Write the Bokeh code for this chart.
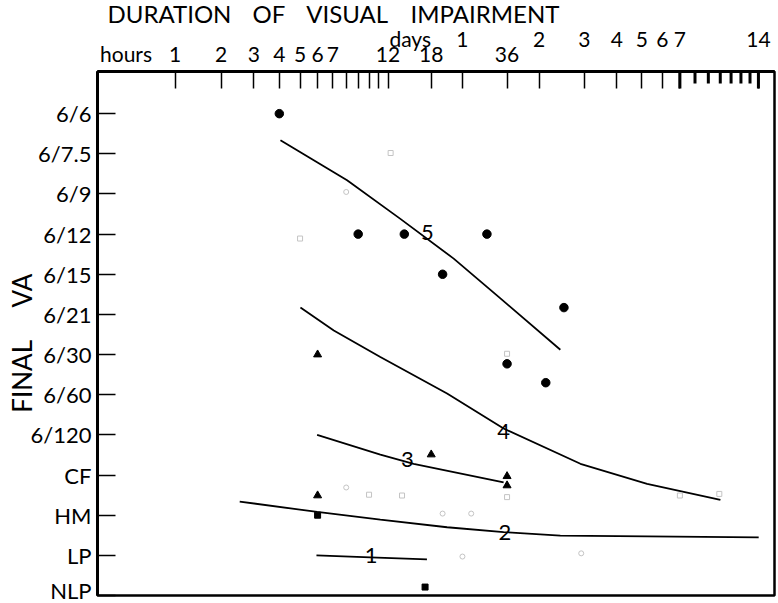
import numpy as np
from bokeh.plotting import figure
from bokeh.models import LinearAxis, FixedTicker, Range1d
from bokeh.embed import file_html
from bokeh.resources import INLINE
from bokeh.core.properties import value

FONT = "Lato"

# ---------------- data ----------------
# VA levels: index 0 = NLP ... 12 = 6/6
va_labels = ["NLP", "LP", "HM", "CF", "6/120", "6/60", "6/30", "6/21",
             "6/15", "6/12", "6/9", "6/7.5", "6/6"]

# top (duration) axis, in hours
hours_row_pos = [1, 2, 3, 4, 5, 6, 7, 12, 18, 36]
hours_row_text = ["1", "2", "3", "4", "5", "6", "7", "12", "18", "36"]
unlabelled_tick_hours = [8, 9, 10, 11, 24, 48, 72, 96, 120, 144, 168, 336]
bold_long_tick_hours = [168, 336]
bold_short_tick_hours = [192, 216, 240, 264, 288, 312]
hours_word_pos = [0.3]
hours_word_text = ["hours"]
days_row_pos = [14.8, 24, 48, 72, 96, 120, 144, 168, 336]
days_row_text = ["days", "1", "2", "3", "4", "5", "6", "7", "14"]

# data points (hours, VA level)
circle_h = [4, 9, 14, 30, 20, 60, 36, 51]
circle_va = [12, 9, 9, 9, 8, 7.17, 5.77, 5.3]
tri_h = [6, 18, 36, 36, 6]
tri_va = [6, 3.51, 2.97, 2.74, 2.49]
square_h = [6, 17]
square_va = [2, 0.21]
faint_sq_h = [12.3, 5, 36, 10, 13.7, 36, 168, 238]
faint_sq_va = [11.02, 8.89, 6.02, 2.51, 2.49, 2.45, 2.49, 2.53]
faint_circ_h = [8, 8, 20, 26, 24, 70]
faint_circ_va = [10.05, 2.69, 2.04, 2.04, 0.97, 1.05]

# fitted curves (hours, VA level)
curve5_h = [4.05, 8.07, 13.49, 22.15, 33.9, 58.1]
curve5_va = [11.34, 10.34, 9.38, 8.39, 7.40, 6.12]
curve4_h = [5.02, 7.07, 11.15, 20.84, 34.9, 69.5, 125.7, 240.3]
curve4_va = [7.17, 6.60, 5.94, 5.03, 4.16, 3.28, 2.78, 2.38]
curve3_h = [5.97, 11.15, 15.28, 34.9]
curve3_va = [4.00, 3.51, 3.28, 2.82]
curve2_h = [2.53, 5.97, 11.15, 20.84, 34.9, 58.1, 125.7, 336.8]
curve2_va = [2.34, 2.08, 1.89, 1.70, 1.58, 1.49, 1.47, 1.45]
curve1_h = [5.93, 10.13, 17.3]
curve1_va = [1.00, 0.95, 0.90]

curve_label_text = ["5", "4", "3", "2", "1"]
curve_label_h = [17.35, 34.9, 14.4, 35.3, 10.2]
curve_label_va = [9.04, 4.09, 3.38, 1.58, 1.0]


def tx(h):
    """Chart's duration scale: log10(hours + 1)."""
    return np.round(np.log10(np.asarray(h, dtype=float) + 1.0), 6)


Y_TOP = 13.05
PX = 40.14  # pixels per VA level (used only for tick lengths)

# ---------------- figure ----------------
p = figure(width=778, height=603,
           x_range=Range1d(0.005, 2.589), y_range=Range1d(0, Y_TOP),
           x_axis_location="above", output_backend="svg",
           toolbar_location=None,
           title="DURATION\u2003\u2009OF\u2003\u2009VISUAL\u2003\u2009\u200aIMPAIRMENT",
           min_border_left=97, min_border_right=4,
           min_border_bottom=8, min_border_top=71)
p.grid.visible = False
p.outline_line_color = "black"
p.outline_line_width = 2.5
p.background_fill_color = "white"
p.border_fill_color = "white"

p.title.align = "left"
p.title.offset = 10
p.title.standoff = -10
p.title.text_font = FONT
p.title.text_font_size = "24px"
p.title.text_font_style = "normal"
p.title.text_color = "black"

# axis A: axis line, ticks and the lower label row
ax = p.xaxis[0]
lower_ticks = list(tx(hours_row_pos))
ax.ticker = FixedTicker(ticks=lower_ticks,
                        minor_ticks=list(tx(unlabelled_tick_hours)))
ax.major_label_overrides = {float(k): t for k, t in zip(lower_ticks, hours_row_text)}
ax.axis_line_width = 3
ax.axis_line_color = "black"
ax.major_tick_in = 17
ax.major_tick_out = 0
ax.major_tick_line_width = 1.5
ax.minor_tick_in = 17
ax.minor_tick_out = 0
ax.minor_tick_line_width = 1.5
ax.major_label_standoff = 10
ax.major_label_text_font = FONT
ax.major_label_text_font_size = "21px"
ax.major_label_text_color = "black"

# axis B: the word "hours" on the same row
hw_ticks = list(tx(hours_word_pos))
axB = LinearAxis(ticker=FixedTicker(ticks=hw_ticks, minor_ticks=[]),
                 major_label_overrides={float(k): t for k, t in zip(hw_ticks, hours_word_text)},
                 axis_line_color=None, major_tick_line_color=None,
                 minor_tick_line_color=None, major_tick_in=0, major_tick_out=0,
                 major_label_standoff=-22,
                 major_label_text_font=FONT, major_label_text_font_size="21px",
                 major_label_text_color="black")
p.add_layout(axB, "above")

# axis C: upper label row (days)
upper_ticks = list(tx(days_row_pos))
axC = LinearAxis(ticker=FixedTicker(ticks=upper_ticks, minor_ticks=[]),
                 major_label_overrides={float(k): t for k, t in zip(upper_ticks, days_row_text)},
                 axis_line_color=None, major_tick_line_color=None,
                 minor_tick_line_color=None, major_tick_in=0, major_tick_out=0,
                 major_label_standoff=-13,
                 major_label_text_font=FONT, major_label_text_font_size="21px",
                 major_label_text_color="black")
p.add_layout(axC, "above")

# bold day ticks between 7 and 14 days
p.segment(x0=tx(bold_long_tick_hours), y0=Y_TOP, x1=tx(bold_long_tick_hours),
          y1=Y_TOP - 17 / PX, line_color="black", line_width=3)
p.segment(x0=tx(bold_short_tick_hours), y0=Y_TOP, x1=tx(bold_short_tick_hours),
          y1=Y_TOP - 12 / PX, line_color="black", line_width=3)

# left axis
ay = p.yaxis[0]
ay.ticker = FixedTicker(ticks=list(range(len(va_labels))), minor_ticks=[])
ay.major_label_overrides = {i: t for i, t in enumerate(va_labels)}
ay.axis_line_width = 3
ay.axis_line_color = "black"
ay.major_tick_in = 18
ay.major_tick_out = 0
ay.major_tick_line_width = 1.5
ay.major_label_standoff = 6
ay.major_label_text_font = FONT
ay.major_label_text_font_size = "22px"
ay.major_label_text_color = "black"
ay.axis_label = "FINAL\u2003\u2002VA\u2003"
ay.axis_label_standoff = -10
ay.axis_label_text_font = FONT
ay.axis_label_text_font_size = "26px"
ay.axis_label_text_font_style = "normal"
ay.axis_label_text_color = "black"

# curves
for hh, vv in [(curve5_h, curve5_va), (curve4_h, curve4_va), (curve3_h, curve3_va),
               (curve2_h, curve2_va), (curve1_h, curve1_va)]:
    p.line(tx(hh), vv, line_color="black", line_width=1.8)

# faint (poorly reproduced) open markers
p.scatter(tx(faint_sq_h), faint_sq_va, marker="square", size=5,
          fill_color=None, line_color="#c4c4c4", line_width=1)
p.scatter(tx(faint_circ_h), faint_circ_va, marker="circle", size=5,
          fill_color=None, line_color="#c4c4c4", line_width=1)

# solid markers
p.scatter(tx(circle_h), circle_va, marker="circle", size=8.5,
          fill_color="black", line_color="black")
p.scatter(tx(tri_h), tri_va, marker="triangle", size=8,
          fill_color="black", line_color="black")
p.scatter(tx(square_h), square_va, marker="square", size=6,
          fill_color="black", line_color="black")

# curve numbers
p.text(tx(curve_label_h), curve_label_va, text=curve_label_text,
       text_font=value(FONT), text_font_size="22px", text_align="center",
       text_baseline="middle", text_color="black")

open("out.html", "w").write(file_html(p, INLINE))
